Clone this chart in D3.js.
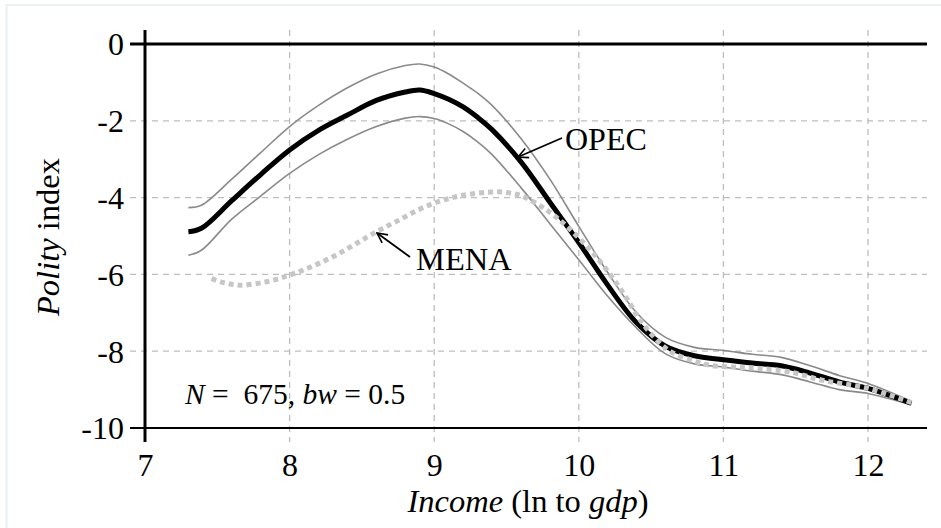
<!DOCTYPE html>
<html>
<head>
<meta charset="utf-8">
<script src="https://cdn.jsdelivr.net/npm/d3@7"></script>
<style>
  html, body { margin: 0; padding: 0; background: #fff; }
  svg { display: block; font-family: "Liberation Serif", "Times New Roman", serif; }
</style>
</head>
<body>
<svg id="chart" width="941" height="528"></svg>
<script>
// Income (log GDP) grid shared by the OPEC estimate and its confidence band
const incomeGrid = [7.30, 7.39, 7.6, 7.8, 8.0, 8.2, 8.4, 8.6, 8.8, 8.9, 9.0, 9.1, 9.2, 9.3, 9.4, 9.6, 9.8,
  10.0, 10.2, 10.4, 10.6, 10.8, 11.0, 11.2, 11.4, 11.6, 11.8, 12.0, 12.15, 12.3];
const opecFit = [-4.89, -4.80, -4.08, -3.40, -2.76, -2.25, -1.85, -1.47, -1.25, -1.20, -1.29, -1.44, -1.64, -1.91, -2.23, -3.07, -4.12,
  -5.17, -6.28, -7.26, -7.87, -8.12, -8.22, -8.31, -8.38, -8.57, -8.80, -8.97, -9.15, -9.36];
const opecUpper = [-4.26, -4.20, -3.52, -2.83, -2.15, -1.60, -1.14, -0.78, -0.56, -0.52, -0.60, -0.78, -1.02, -1.28, -1.60, -2.46, -3.52,
  -4.75, -5.95, -7.00, -7.64, -7.90, -7.98, -8.08, -8.16, -8.38, -8.63, -8.84, -9.06, -9.30];
const opecLower = [-5.50, -5.37, -4.56, -3.96, -3.37, -2.88, -2.48, -2.15, -1.93, -1.89, -1.94, -2.08, -2.28, -2.55, -2.88, -3.74, -4.68,
  -5.62, -6.57, -7.40, -8.07, -8.33, -8.41, -8.52, -8.61, -8.80, -9.00, -9.10, -9.24, -9.39];

// MENA estimate on its own income grid
const menaIncome = [7.46, 7.55, 7.66, 7.84, 8.0, 8.15, 8.3, 8.45, 8.6, 8.75, 8.9, 9.05, 9.2, 9.43, 9.55, 9.62, 9.78, 9.92,
  10.12, 10.31, 10.4, 10.5, 10.63, 10.8, 10.91, 11.1, 11.25, 11.46, 11.69, 12.0, 12.3];
const menaFit = [-6.11, -6.22, -6.28, -6.19, -6.02, -5.80, -5.54, -5.22, -4.89, -4.60, -4.30, -4.08, -3.94, -3.85, -3.90, -3.98, -4.33, -4.76,
  -5.54, -6.50, -7.05, -7.55, -8.00, -8.26, -8.37, -8.42, -8.45, -8.54, -8.76, -8.97, -9.34];

const xTicks = [7, 8, 9, 10, 11, 12];
const yTicks = [0, -2, -4, -6, -8, -10];

const svg = d3.select("#chart");
const W = 941, H = 528;

// light frame around the figure
svg.append("rect").attr("x", 6.5).attr("y", 5).attr("width", W + 10).attr("height", H + 10)
  .attr("fill", "#fff").attr("stroke", "#eaf0f3").attr("stroke-width", 2);

const x = d3.scaleLinear().domain([7, 12]).range([145, 868]);
const y = d3.scaleLinear().domain([-10, 0]).range([428, 44]);
const xEnd = 927, xTickStart = 130, yTop = 30, yTickEnd = 442;

const gridColor = "#bdbdbd";

// dashed grid
svg.append("g").selectAll("line").data(xTicks.filter(d => d !== 7)).join("line")
  .attr("x1", d => x(d)).attr("x2", d => x(d)).attr("y1", yTop).attr("y2", yTickEnd)
  .attr("stroke", gridColor).attr("stroke-width", 1.3).attr("stroke-dasharray", "6,5");
svg.append("g").selectAll("line").data(yTicks.filter(d => d !== 0 && d !== -10)).join("line")
  .attr("x1", xTickStart).attr("x2", xEnd).attr("y1", d => y(d)).attr("y2", d => y(d))
  .attr("stroke", gridColor).attr("stroke-width", 1.3).attr("stroke-dasharray", "6,5");

// zero reference line and bottom axis line
svg.append("line").attr("x1", xTickStart).attr("x2", xEnd).attr("y1", y(0)).attr("y2", y(0))
  .attr("stroke", "#000").attr("stroke-width", 3);
svg.append("line").attr("x1", xTickStart).attr("x2", xEnd).attr("y1", y(-10)).attr("y2", y(-10))
  .attr("stroke", "#000").attr("stroke-width", 2);
// left axis line
svg.append("line").attr("x1", x(7)).attr("x2", x(7)).attr("y1", yTop).attr("y2", yTickEnd)
  .attr("stroke", "#000").attr("stroke-width", 3);

// tick labels via d3 axes (plain hyphen for negatives)
const fmt = d => String(d);
const yAxis = svg.append("g").attr("transform", `translate(${x(7)},0)`)
  .call(d3.axisLeft(y).tickValues(yTicks).tickSize(0).tickPadding(21).tickFormat(fmt));
yAxis.select(".domain").remove();
yAxis.selectAll("text").attr("font-size", 32).attr("fill", "#000")
  .attr("font-family", "Liberation Serif, serif").attr("dy", "0.34em");

const xAxis = svg.append("g").attr("transform", `translate(0,${y(-10)})`)
  .call(d3.axisBottom(x).tickValues(xTicks).tickSize(0).tickPadding(25).tickFormat(fmt));
xAxis.select(".domain").remove();
xAxis.selectAll("text").attr("font-size", 32).attr("fill", "#000")
  .attr("font-family", "Liberation Serif, serif");

// curves
const line = d3.line().x(d => x(d[0])).y(d => y(d[1])).curve(d3.curveCatmullRom.alpha(0.5));
const zipped = (xs, ys) => xs.map((v, i) => [v, ys[i]]);

svg.append("path").datum(zipped(incomeGrid, opecUpper)).attr("d", line)
  .attr("fill", "none").attr("stroke", "#8a8a8a").attr("stroke-width", 1.6);
svg.append("path").datum(zipped(incomeGrid, opecLower)).attr("d", line)
  .attr("fill", "none").attr("stroke", "#8a8a8a").attr("stroke-width", 1.6);
svg.append("path").datum(zipped(incomeGrid, opecFit)).attr("d", line)
  .attr("fill", "none").attr("stroke", "#000").attr("stroke-width", 5);
svg.append("path").datum(zipped(menaIncome, menaFit)).attr("d", line)
  .attr("fill", "none").attr("stroke", "#c6c6c6").attr("stroke-width", 5)
  .attr("stroke-dasharray", "5,4");

// arrow annotations
svg.append("defs").append("marker").attr("id", "arrowHead")
  .attr("viewBox", "0 0 12 12").attr("refX", 11).attr("refY", 6)
  .attr("markerWidth", 12).attr("markerHeight", 12).attr("markerUnits", "userSpaceOnUse")
  .attr("orient", "auto")
  .append("path").attr("d", "M1,1 L11,6 L1,11").attr("fill", "none")
  .attr("stroke", "#000").attr("stroke-width", 1.6);

svg.append("line").attr("x1", 562).attr("y1", 138).attr("x2", 518).attr("y2", 157)
  .attr("stroke", "#000").attr("stroke-width", 1.8).attr("marker-end", "url(#arrowHead)");
svg.append("line").attr("x1", 410).attr("y1", 257).attr("x2", 377).attr("y2", 233)
  .attr("stroke", "#000").attr("stroke-width", 1.8).attr("marker-end", "url(#arrowHead)");

svg.append("text").attr("x", 565).attr("y", 150).attr("font-size", 32).attr("fill", "#000").text("OPEC");
svg.append("text").attr("x", 416).attr("y", 270).attr("font-size", 32.5).attr("fill", "#000").text("MENA");

// sample note
const note = svg.append("text").attr("x", 185).attr("y", 404).attr("font-size", 29.5).attr("fill", "#000")
  .attr("xml:space", "preserve");
note.append("tspan").attr("font-style", "italic").text("N");
note.append("tspan").text(" =  675, ");
note.append("tspan").attr("font-style", "italic").text("bw");
note.append("tspan").text(" = 0.5");

// axis titles
const xt = svg.append("text").attr("x", 528).attr("y", 512).attr("text-anchor", "middle")
  .attr("font-size", 32.5).attr("fill", "#000");
xt.append("tspan").attr("font-style", "italic").text("Income");
xt.append("tspan").text(" (ln to ");
xt.append("tspan").attr("font-style", "italic").text("gdp");
xt.append("tspan").text(")");

const yt = svg.append("text").attr("transform", "translate(59,237) rotate(-90)")
  .attr("text-anchor", "middle").attr("font-size", 32.5).attr("fill", "#000");
yt.append("tspan").attr("font-style", "italic").text("Polity");
yt.append("tspan").text(" index");
</script>
</body>
</html>
